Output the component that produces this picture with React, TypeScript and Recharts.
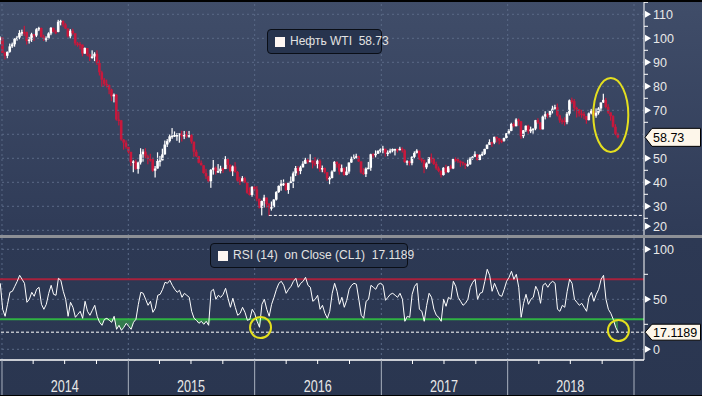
import React from 'react';
import { ComposedChart, Bar, Line, Area, XAxis, YAxis, ReferenceLine, ReferenceDot } from 'recharts';

// ---------- DATA (weekly, first week ends 27 Dec 2013) ----------
const FIRST_WEEK = Date.UTC(2013, 11, 27);
const WEEK_MS = 7 * 86400000;
const firstOpen = 99.3;

const close2014 = [100.3, 93.96, 92.72, 94.37, 96.64, 97.49, 99.88, 100.3, 102.2, 102.59, 102.58, 98.89, 99.46, 101.67, 101.14, 103.74, 104.3, 100.6, 99.76, 99.99, 102.02, 104.35, 102.71, 102.66, 106.91, 107.26, 105.74, 104.06, 100.83, 103.13, 102.09, 97.88, 97.65, 97.35, 93.65, 95.96, 93.29, 92.27, 92.41, 93.54, 89.74, 85.82, 82.75, 81.01, 80.54, 78.65, 75.82, 76.51, 66.15, 65.84, 57.81, 56.52, 54.73];
const high2014 = [100.8, 100.4, 94.5, 94.5, 97.8, 98.2, 100.0, 101.0, 103.4, 103.6, 105.2, 102.8, 100.6, 102.3, 101.8, 104.2, 104.8, 104.5, 101.5, 100.8, 102.5, 104.7, 104.5, 103.5, 107.7, 107.7, 107.4, 106.3, 104.2, 103.8, 104.0, 102.0, 98.5, 98.4, 97.4, 96.2, 95.9, 93.6, 95.0, 94.2, 95.0, 91.0, 86.5, 83.5, 82.8, 80.8, 79.0, 77.0, 76.8, 69.5, 66.0, 58.0, 57.5];
const low2014 = [97.5, 93.9, 91.2, 91.7, 94.0, 96.0, 96.5, 99.0, 99.6, 101.0, 101.0, 97.4, 97.8, 98.5, 98.9, 100.5, 103.0, 100.3, 98.9, 98.6, 99.6, 101.3, 102.5, 101.7, 102.5, 105.4, 104.8, 103.9, 100.3, 100.0, 101.5, 97.0, 96.5, 95.4, 92.5, 93.5, 92.5, 90.5, 91.5, 90.5, 88.9, 84.5, 79.8, 80.0, 79.5, 76.7, 73.8, 73.3, 65.7, 63.7, 57.3, 53.6, 54.0];

const close2015 = [52.69, 48.36, 48.69, 45.59, 48.24, 51.69, 52.78, 50.81, 49.76, 49.61, 44.84, 45.72, 48.87, 49.14, 51.64, 55.74, 57.15, 59.15, 59.39, 59.69, 59.72, 60.3, 59.13, 59.96, 59.61, 59.63, 56.93, 52.74, 50.89, 48.14, 47.12, 43.87, 42.5, 40.45, 45.22, 46.05, 44.63, 44.68, 45.7, 45.54, 49.63, 47.26, 44.6, 46.59, 44.29, 40.74, 40.39, 41.71, 39.97, 35.62, 34.73, 38.1];
const high2015 = [54.8, 52.0, 49.2, 49.5, 48.6, 54.2, 53.8, 54.2, 51.5, 51.9, 50.3, 46.8, 52.5, 51.0, 54.0, 57.4, 58.0, 59.9, 62.6, 61.2, 60.5, 60.4, 61.5, 61.4, 61.2, 61.4, 60.0, 56.5, 53.6, 51.0, 49.1, 47.0, 45.6, 42.7, 45.5, 49.3, 46.6, 47.6, 46.9, 46.2, 50.9, 50.0, 47.5, 47.0, 48.4, 44.7, 42.3, 42.6, 42.3, 40.2, 37.9, 38.4];
const low2015 = [52.0, 46.8, 44.2, 45.2, 43.6, 47.4, 48.6, 50.0, 47.5, 48.6, 44.4, 42.0, 46.5, 46.6, 50.0, 51.5, 54.7, 56.6, 58.1, 58.9, 57.3, 56.5, 57.0, 58.0, 58.5, 58.6, 56.1, 50.6, 50.5, 47.9, 47.0, 43.6, 41.4, 39.9, 37.7, 43.2, 43.2, 43.9, 43.7, 43.9, 45.5, 45.7, 44.2, 42.6, 44.0, 40.3, 38.9, 40.5, 39.6, 35.2, 34.5, 34.0];

const close2016 = [37.04, 33.16, 29.42, 32.19, 33.62, 30.89, 29.44, 29.64, 32.78, 35.92, 38.5, 39.44, 39.46, 36.79, 39.72, 40.36, 43.73, 45.92, 44.66, 46.21, 47.75, 49.33, 48.62, 49.07, 47.98, 47.64, 48.99, 45.41, 45.95, 44.19, 41.6, 41.8, 44.49, 48.52, 47.64, 44.44, 45.88, 43.03, 44.48, 48.24, 49.81, 50.35, 50.85, 48.7, 44.07, 43.41, 45.69, 46.06, 51.68, 51.5, 51.9, 53.02, 53.72];
const high2016 = [38.4, 38.4, 32.5, 32.4, 34.8, 33.6, 31.4, 32.0, 33.0, 36.3, 38.7, 41.0, 41.2, 39.9, 39.9, 42.4, 44.5, 46.8, 46.8, 46.9, 48.8, 50.2, 50.1, 51.7, 49.1, 50.5, 49.5, 49.6, 47.0, 46.2, 44.3, 42.4, 45.0, 48.8, 48.7, 47.9, 47.4, 46.2, 46.5, 48.3, 50.7, 51.6, 51.9, 51.1, 48.4, 45.9, 46.2, 48.5, 51.9, 52.1, 53.3, 53.4, 54.1];
const low2016 = [36.3, 32.1, 29.1, 26.2, 29.5, 29.5, 26.1, 28.2, 29.6, 32.4, 35.6, 36.5, 38.5, 36.4, 35.2, 39.6, 37.6, 42.6, 43.0, 43.4, 46.3, 47.9, 47.8, 48.3, 45.8, 46.7, 45.8, 44.4, 44.2, 43.6, 40.6, 39.2, 41.6, 44.5, 46.1, 43.2, 44.2, 42.7, 42.9, 43.6, 48.1, 49.6, 49.9, 48.5, 43.6, 43.0, 42.2, 45.5, 44.8, 49.9, 50.4, 51.9, 52.4];

const close2017 = [53.99, 52.37, 52.42, 53.17, 53.83, 53.86, 53.4, 53.99, 53.33, 48.49, 48.78, 47.97, 50.6, 52.24, 53.18, 49.62, 49.33, 46.22, 47.84, 50.33, 49.8, 47.66, 45.83, 44.74, 43.01, 46.04, 44.23, 46.54, 45.77, 49.71, 49.58, 48.82, 48.51, 47.87, 47.29, 47.48, 49.89, 50.66, 51.67, 49.29, 51.45, 51.84, 53.9, 55.64, 56.74, 56.55, 58.95, 58.36, 57.36, 57.3, 58.47, 60.42];
const high2017 = [55.2, 54.0, 53.3, 54.0, 54.1, 54.0, 54.0, 54.8, 54.6, 53.8, 49.2, 49.0, 50.9, 52.9, 53.8, 53.1, 50.2, 49.5, 48.3, 50.5, 52.0, 50.2, 48.6, 46.6, 45.0, 46.3, 47.3, 46.8, 47.3, 49.8, 50.4, 50.2, 49.1, 48.6, 48.1, 49.4, 50.5, 50.9, 52.9, 51.5, 51.6, 52.8, 54.0, 55.8, 57.9, 56.9, 59.0, 58.9, 58.3, 57.9, 58.6, 60.5];
const low2017 = [52.1, 50.7, 50.9, 52.0, 52.5, 51.2, 52.4, 53.3, 52.4, 48.1, 47.1, 47.0, 47.1, 50.0, 52.0, 49.3, 48.2, 43.8, 45.5, 47.8, 48.2, 47.2, 45.2, 44.2, 42.0, 42.8, 43.7, 44.0, 45.4, 45.5, 48.5, 48.1, 46.5, 47.0, 45.6, 46.5, 47.3, 49.4, 50.5, 49.1, 49.2, 50.9, 51.4, 53.8, 55.6, 54.8, 55.9, 56.6, 55.8, 56.3, 56.9, 58.3];

const close2018 = [61.44, 64.3, 63.37, 66.14, 65.45, 59.2, 61.68, 63.55, 61.25, 62.04, 62.34, 65.88, 64.94, 62.06, 67.39, 68.38, 68.1, 69.72, 70.7, 71.28, 67.88, 65.81, 65.74, 65.06, 68.58, 74.15, 73.8, 71.01, 70.46, 68.69, 68.49, 67.63, 65.91, 68.72, 69.8, 67.75, 68.99, 70.78, 73.25, 74.34, 71.34, 69.12, 67.59, 63.14, 60.19, 58.73];
const high2018 = [62.2, 64.8, 64.9, 66.7, 66.6, 65.2, 61.8, 63.7, 64.0, 63.2, 62.5, 66.0, 66.7, 64.5, 67.8, 69.6, 68.9, 69.8, 71.9, 72.3, 72.8, 68.2, 66.6, 67.1, 69.3, 74.5, 75.3, 74.7, 71.5, 70.3, 70.2, 69.4, 67.6, 69.1, 70.6, 71.4, 70.8, 71.3, 73.3, 76.9, 75.2, 72.5, 68.7, 68.0, 64.2, 60.7];
const low2018 = [59.9, 61.3, 62.9, 63.3, 63.6, 58.1, 58.4, 61.0, 60.1, 60.5, 60.2, 61.7, 64.3, 61.8, 62.4, 66.2, 66.7, 67.1, 68.7, 70.3, 67.4, 64.8, 64.2, 63.6, 64.2, 67.8, 72.7, 69.6, 67.0, 67.4, 66.9, 66.3, 64.4, 65.8, 68.3, 67.4, 66.9, 68.2, 69.6, 73.1, 70.8, 68.5, 65.7, 62.8, 59.6, 58.3];

const rsi2014 = [66, 40, 33, 45, 57, 58, 63, 68, 74, 70, 66, 47, 50, 57, 53, 60, 62, 45, 40, 45, 56, 64, 55, 54, 71, 69, 58, 50, 33, 47, 42, 32, 35, 38, 31, 48, 38, 34, 39, 44, 33, 27, 24, 30, 31, 29, 27, 33, 20, 24, 19, 22, 26];
const rsi2015 = [23, 20, 27, 30, 45, 57, 56, 50, 44, 48, 37, 41, 54, 55, 60, 67, 66, 69, 64, 60, 57, 59, 52, 56, 54, 52, 38, 31, 29, 26, 28, 25, 28, 24, 58, 60, 50, 54, 52, 55, 61, 51, 42, 51, 42, 34, 36, 42, 37, 29, 30, 40];
const rsi2016 = [36, 28, 22, 45, 50, 40, 33, 45, 52, 60, 66, 68, 64, 56, 60, 63, 68, 71, 62, 66, 68, 72, 64, 62, 48, 50, 54, 40, 44, 36, 31, 38, 56, 66, 58, 45, 52, 42, 49, 60, 64, 66, 65, 50, 34, 31, 48, 50, 64, 62, 60, 65, 66];
const rsi2017 = [64, 49, 52, 55, 56, 54, 52, 56, 50, 28, 33, 32, 55, 63, 66, 40, 38, 28, 44, 56, 52, 40, 34, 32, 28, 50, 43, 52, 50, 68, 63, 52, 48, 44, 46, 50, 62, 67, 70, 50, 56, 57, 68, 80, 74, 58, 66, 60, 54, 53, 60, 68];
const rsi2018 = [72, 78, 70, 75, 62, 32, 46, 55, 45, 50, 52, 63, 58, 46, 64, 66, 62, 66, 68, 66, 40, 38, 44, 42, 58, 70, 66, 50, 47, 44, 46, 42, 38, 52, 57, 48, 55, 60, 70, 74, 50, 40, 36, 30, 22, 17.1189];

const yearLabels = ['2014', '2015', '2016', '2017', '2018'];
const gridYears = [2014, 2015, 2016, 2017, 2018, 2019];
const priceLabels = [20, 30, 40, 50, 60, 70, 80, 90, 100, 110];
const priceMinor = [25, 35, 45, 55, 65, 75, 85, 95, 105, 115];
const rsiLabels = [0, 50, 100];
const rsiMinor = [25, 75];

const LAST_PRICE = 58.73;
const LAST_RSI = 17.1189;
const OVERBOUGHT = 70;
const OVERSOLD = 30;
const LOW_2016 = 26.2;
const LOW_2016_DATE = Date.UTC(2016, 1, 11);

const closes = [...close2014, ...close2015, ...close2016, ...close2017, ...close2018];
const highs = [...high2014, ...high2015, ...high2016, ...high2017, ...high2018];
const lows = [...low2014, ...low2015, ...low2016, ...low2017, ...low2018];
const rsis = [...rsi2014, ...rsi2015, ...rsi2016, ...rsi2017, ...rsi2018];

const data = closes.map((c, i) => {
  const open = i === 0 ? firstOpen : closes[i - 1];
  return {
    t: FIRST_WEEK + i * WEEK_MS,
    open,
    close: c,
    high: highs[i],
    low: lows[i],
    range: [Math.min(lows[i], open, c), Math.max(highs[i], open, c)],
    rsi: rsis[i],
  };
});

// ---------- LAYOUT ----------
const W = 702;
const AXIS_W = 58;
const T2014 = Date.UTC(2014, 0, 1);
const T2019 = Date.UTC(2019, 0, 1);
const PX_PER_MS = 632 / (T2019 - T2014);
const X_DOMAIN: [number, number] = [T2014 - 2 / PX_PER_MS, T2014 + 642 / PX_PER_MS];
const PRICE_DOMAIN: [number, number] = [17.625, 115.96];
const RSI_DOMAIN: [number, number] = [-10.7, 111.3];

const FONT = '"Liberation Sans", Arial, sans-serif';
const GRID = '#5a6986';
const RED = '#c8183c';
const YELLOW = '#e4df1f';

const quarterTicks: number[] = [];
gridYears.forEach((y) => {
  [0, 3, 6, 9].forEach((m) => {
    const t = Date.UTC(y, m, 1);
    if (t <= T2019) quarterTicks.push(t);
  });
});

const Candle = (props: any) => {
  const { x, y, width, height, payload } = props;
  if (!payload) return null;
  const [lo, hi] = payload.range;
  const top = Math.min(y, y + height);
  const h = Math.abs(height);
  const span = hi - lo || 1;
  const toY = (v: number) => top + ((hi - v) / span) * h;
  const up = payload.close >= payload.open;
  const color = up ? '#ffffff' : RED;
  const cx = x + width / 2;
  const yo = toY(payload.open);
  const yc = toY(payload.close);
  const bTop = Math.min(yo, yc);
  const bh = Math.max(1.5, Math.abs(yo - yc));
  return (
    <g>
      <rect x={cx - 0.6} y={top} width={1.2} height={Math.max(1, h)} fill={color} />
      <rect x={cx - 1.3} y={bTop} width={2.6} height={bh} fill={color} />
    </g>
  );
};

const Tag = ({ x, y, text, h }: { x: number; y: number; text: string; h: number }) => (
  <g>
    <polygon
      points={`${x + 1},${y} ${x + 8},${y - h / 2} ${W - 1.5},${y - h / 2} ${W - 1.5},${y + h / 2} ${x + 8},${y + h / 2}`}
      fill="#fdf6ea"
      stroke="#000"
      strokeWidth={1}
    />
    <text x={x + 9} y={y + 0.5} fontFamily={FONT} fontSize={12.5} fill="#000" dominantBaseline="central">
      {text}
    </text>
  </g>
);

const makeYTick = (labels: number[], last: number, lastText: string, tagH: number, hideNear: number) => (props: any) => {
  const { x, y, payload } = props;
  const v = payload.value;
  if (v === last) return <Tag x={x} y={y} text={lastText} h={tagH} />;
  if (Math.abs(v - last) < hideNear) return null;
  if (labels.includes(v)) {
    const yy = v === 20 && labels === priceLabels ? y - 4 : y;
    return (
      <g>
        <polygon points={`${x + 1},${yy - 3.5} ${x + 7},${yy} ${x + 1},${yy + 3.5}`} fill="#ffffff" />
        <text x={x + 9} y={yy + 1} fontFamily={FONT} fontSize={12.5} fill="#e8e8e8" dominantBaseline="central">
          {v}
        </text>
      </g>
    );
  }
  return <line x1={x} x2={x + 4} y1={y} y2={y} stroke="#ffffff" strokeWidth={1} />;
};

const PriceTick = makeYTick(priceLabels, LAST_PRICE, LAST_PRICE.toFixed(2), 18, 3.8);
const RsiTick = makeYTick(rsiLabels, LAST_RSI, LAST_RSI.toFixed(4), 16, 2);

const XTick = (props: any) => {
  const { x, y, payload } = props;
  const d = new Date(payload.value);
  const m = d.getUTCMonth();
  const yr = String(d.getUTCFullYear());
  if (m === 0) return <line x1={x} x2={x} y1={y} y2={y + 36} stroke="#a9b1bf" strokeWidth={1} />;
  return (
    <g>
      <line x1={x} x2={x} y1={y} y2={y + 4} stroke="#ffffff" strokeWidth={1} />
      {m === 6 && yearLabels.includes(yr) ? (
        <text
          x={x}
          y={y + 32}
          textAnchor="middle"
          fontFamily={'"Liberation Sans Narrow", "Liberation Sans", Arial, sans-serif'}
          fontSize={16}
          fill="#e8e8e8"
          textLength={28}
          lengthAdjust="spacingAndGlyphs"
        >
          {yr}
        </text>
      ) : null}
    </g>
  );
};

const Ellipse = (rx: number, ry: number) => (props: any) => (
  <ellipse cx={props.cx} cy={props.cy} rx={rx} ry={ry} fill="none" stroke={YELLOW} strokeWidth={2} />
);

const Legend = ({ left, top, width, text }: { left: number; top: number; width: number; text: string }) => (
  <div
    style={{
      position: 'absolute',
      left,
      top,
      width,
      height: 25,
      boxSizing: 'border-box',
      background: '#27344e',
      border: '1px solid #0a0e16',
      borderRadius: 4,
    }}
  >
    <div style={{ position: 'absolute', left: 7, top: 7, width: 10, height: 10, background: '#fdf6f2' }} />
    <div
      style={{
        position: 'absolute',
        left: 22,
        top: 0,
        height: 23,
        lineHeight: '23px',
        fontFamily: FONT,
        fontSize: 12,
        color: '#e2e2e2',
        whiteSpace: 'pre',
      }}
    >
      {text}
    </div>
  </div>
);

export default function App() {
  const priceTicks = [...priceMinor, ...priceLabels, LAST_PRICE];
  const rsiTicks = [...rsiMinor, ...rsiLabels, LAST_RSI];
  return (
    <div
      style={{
        position: 'absolute',
        left: 0,
        top: 0,
        width: W,
        height: 396,
        overflow: 'hidden',
        background: 'linear-gradient(180deg, #404d69 0px, #2f3b57 236px, #2d3954 238px, #2a3650 396px)',
      }}
    >
      <div style={{ position: 'absolute', left: 0, top: 0 }}>
        <ComposedChart width={W} height={236} data={data} margin={{ top: 0, right: 0, bottom: 0, left: 0 }}>
          <XAxis dataKey="t" type="number" domain={X_DOMAIN} allowDataOverflow hide />
          <YAxis
            orientation="right"
            width={AXIS_W}
            type="number"
            domain={PRICE_DOMAIN}
            allowDataOverflow
            ticks={priceTicks}
            interval={0}
            tickSize={0}
            tickMargin={0}
            tickLine={false}
            axisLine={{ stroke: '#ffffff', strokeWidth: 1 }}
            tick={PriceTick}
          />
          {priceLabels.map((v) => (
            <ReferenceLine key={'pg' + v} y={v} stroke={GRID} strokeDasharray="2 3" />
          ))}
          {gridYears.map((y) => (
            <ReferenceLine key={'pv' + y} x={Date.UTC(y, 0, 1)} stroke={GRID} strokeDasharray="2 3" />
          ))}
          <ReferenceLine
            segment={[
              { x: LOW_2016_DATE, y: LOW_2016 },
              { x: X_DOMAIN[1], y: LOW_2016 },
            ]}
            stroke="#ffffff"
            strokeDasharray="3 2"
            strokeWidth={1}
          />
          <Bar dataKey="range" barSize={2} shape={Candle} isAnimationActive={false} />
          <ReferenceDot x={Date.UTC(2018, 9, 26)} y={68} ifOverflow="visible" shape={Ellipse(17.5, 37)} />
        </ComposedChart>
      </div>

      <div style={{ position: 'absolute', left: 0, top: 0, width: W, height: 2, background: '#000' }} />
      <div style={{ position: 'absolute', left: 0, top: 235, width: W, height: 3, background: '#8d9096' }} />

      <div style={{ position: 'absolute', left: 0, top: 238 }}>
        <ComposedChart width={W} height={158} data={data} margin={{ top: 0, right: 0, bottom: 0, left: 0 }}>
          <XAxis
            dataKey="t"
            type="number"
            domain={X_DOMAIN}
            allowDataOverflow
            height={36}
            ticks={quarterTicks}
            interval={0}
            tickSize={0}
            tickMargin={0}
            tickLine={false}
            axisLine={{ stroke: '#ffffff', strokeWidth: 1.5 }}
            tick={XTick}
          />
          <YAxis
            orientation="right"
            width={AXIS_W}
            type="number"
            domain={RSI_DOMAIN}
            allowDataOverflow
            ticks={rsiTicks}
            interval={0}
            tickSize={0}
            tickMargin={0}
            tickLine={false}
            axisLine={{ stroke: '#ffffff', strokeWidth: 1 }}
            tick={RsiTick}
          />
          {rsiLabels.map((v) => (
            <ReferenceLine key={'rg' + v} y={v} stroke={GRID} strokeDasharray="2 3" />
          ))}
          {gridYears.map((y) => (
            <ReferenceLine key={'rv' + y} x={Date.UTC(y, 0, 1)} stroke={GRID} strokeDasharray="2 3" />
          ))}
          <Area
            dataKey={(d: any) => [Math.min(d.rsi, OVERSOLD), OVERSOLD]}
            fill="#3cb44a"
            fillOpacity={0.55}
            stroke="none"
            isAnimationActive={false}
          />
          <ReferenceLine y={OVERBOUGHT} stroke="#a8213c" strokeWidth={2} />
          <ReferenceLine y={OVERSOLD} stroke="#2fb343" strokeWidth={2} />
          <ReferenceLine y={LAST_RSI} stroke="#ffffff" strokeDasharray="3 2" strokeWidth={1} />
          <Line dataKey="rsi" stroke="#ffffff" strokeWidth={1} dot={false} isAnimationActive={false} />
          <ReferenceDot x={Date.UTC(2016, 0, 18)} y={21.8} ifOverflow="visible" shape={Ellipse(10.5, 10.5)} />
          <ReferenceDot x={Date.UTC(2018, 10, 17)} y={18.8} ifOverflow="visible" shape={Ellipse(10.5, 10.5)} />
        </ComposedChart>
      </div>

      <Legend left={267} top={29} width={115} text={`Нефть WTI  ${LAST_PRICE.toFixed(2)}`} />
      <Legend left={210} top={243} width={198} text={`RSI (14)  on Close (CL1)  ${LAST_RSI.toFixed(4)}`} />
      <div style={{ position: 'absolute', left: 0, top: 395, width: W, height: 1, background: '#000' }} />
    </div>
  );
}
